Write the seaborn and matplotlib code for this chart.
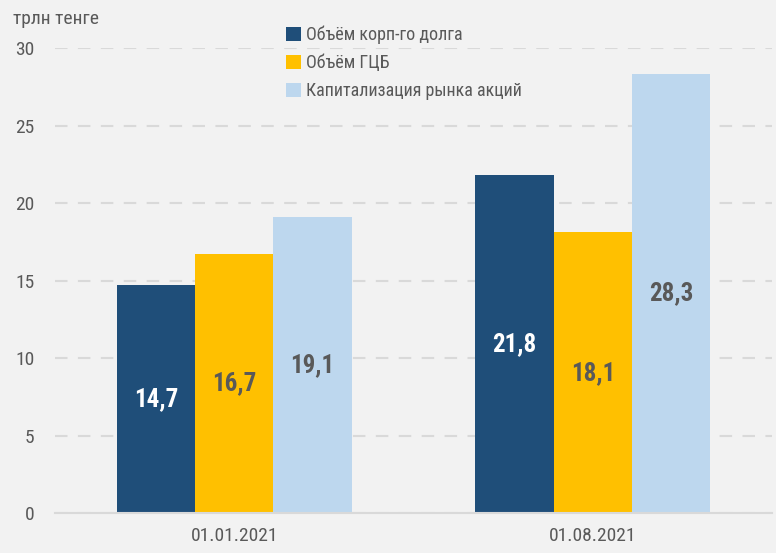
import pandas as pd
import numpy as np
import matplotlib.pyplot as plt
import seaborn as sns
from matplotlib import font_manager

# данные
dates = ["01.01.2021", "01.08.2021"]
series = ["Объём корп-го долга", "Объём ГЦБ", "Капитализация рынка акций"]
corp_debt = [14.7, 21.8]
gov_bonds = [16.7, 18.1]
equity_cap = [19.1, 28.3]

colors = ["#1f4e79", "#ffc000", "#bdd7ee"]
label_colors = ["white", "#595959", "#595959"]

df = pd.DataFrame({
    "date": dates * 3,
    "series": [s for s in series for _ in dates],
    "value": corp_debt + gov_bonds + equity_cap,
})

sns.set_theme(style="white")
names = {f.name for f in font_manager.fontManager.ttflist}
fams = [f for f in ["Liberation Sans Narrow", "Roboto Condensed", "DejaVu Sans Condensed"] if f in names]
plt.rcParams["font.family"] = fams + ["DejaVu Sans"]

fig = plt.figure(figsize=(7.76, 5.53), dpi=100)
fig.patch.set_facecolor("#f2f2f2")
ax = fig.add_axes([0.071, 0.0723, 0.924, 0.8409])
ax.set_facecolor("#f2f2f2")

sns.barplot(
    data=df, x="date", y="value", hue="series",
    palette=colors, width=0.655, saturation=1,
    edgecolor="none", ax=ax
)

# подписи значений
for cont, lc in zip(ax.containers, label_colors):
    for bar in cont:
        h = bar.get_height()
        ax.text(
            bar.get_x() + bar.get_width() / 2, h / 2,
            f"{h:.1f}".replace(".", ","),
            ha="center", va="center",
            fontsize=18, fontweight="bold", color=lc
        )

ax.set_ylim(0, 30)
ax.set_yticks(range(0, 31, 5))
ax.set_xlabel("")
ax.set_ylabel("")
ax.yaxis.grid(True, linestyle=(0, (6, 5)), color="#d9d9d9", linewidth=1.5)
ax.set_axisbelow(True)
for s in ["top", "right", "left"]:
    ax.spines[s].set_visible(False)
ax.spines["bottom"].set_color("#d9d9d9")
ax.spines["bottom"].set_linewidth(1.5)
ax.tick_params(axis="both", length=0, labelsize=14, labelcolor="#595959")
ax.tick_params(axis="y", pad=15)
ax.tick_params(axis="x", pad=10)

fig.text(0.017, 0.965, "трлн тенге", fontsize=14, color="#595959", va="center")

leg = ax.legend(
    loc="upper center", bbox_to_anchor=(0.487, 1.083), frameon=False,
    fontsize=13, handlelength=0.8, handleheight=0.8, handletextpad=0.3,
    labelspacing=0.55
)
for t in leg.get_texts():
    t.set_color("#595959")

fig.savefig("out.png", dpi=100, facecolor=fig.get_facecolor())
